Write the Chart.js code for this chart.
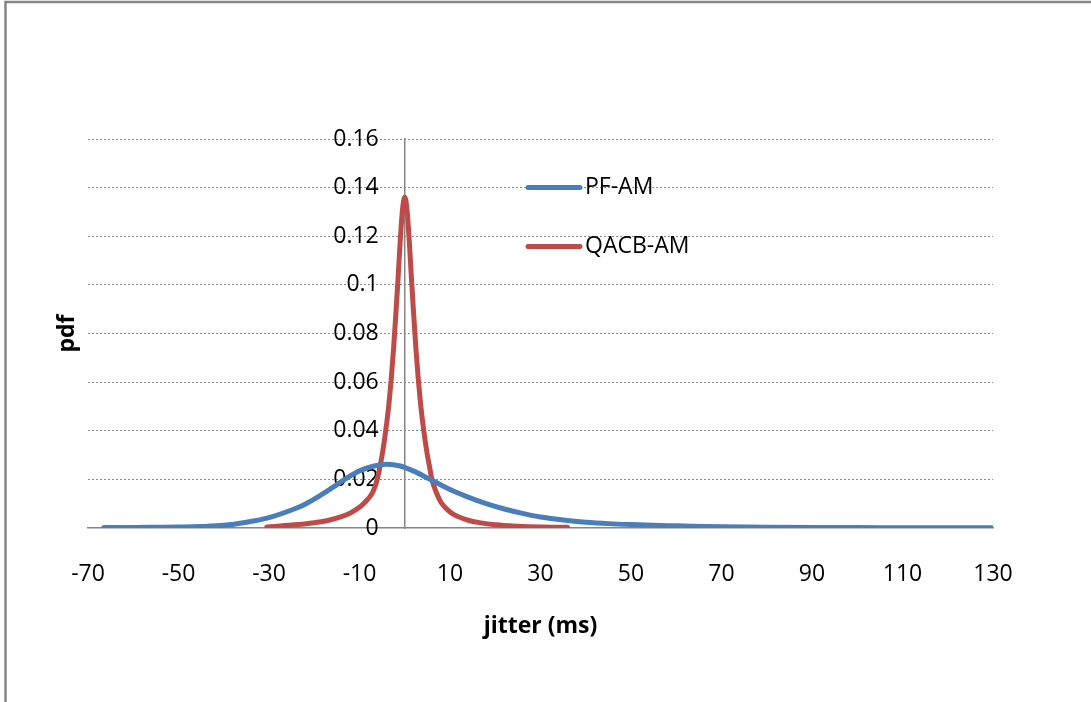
<!DOCTYPE html>
<html>
<head>
<meta charset="utf-8">
<script src="https://cdn.jsdelivr.net/npm/chart.js@4/dist/chart.umd.min.js"></script>
<style>
  html, body { margin: 0; padding: 0; background: #fff; overflow: hidden; }
  canvas { display: block; }
</style>
</head>
<body>
<canvas id="chart" width="1091" height="702"></canvas>
<script>
// Axis ticks
const xTicks = [-70, -50, -30, -10, 10, 30, 50, 70, 90, 110, 130];
const yTicks = [0, 0.02, 0.04, 0.06, 0.08, 0.1, 0.12, 0.14, 0.16];

// Series names and colours
const seriesNames = ['PF-AM', 'QACB-AM'];
const seriesColors = ['#4A7EBB', '#BE4B48'];

// PF-AM jitter pdf
const pfJitter = [-66.5, -60, -55, -50, -45, -40, -35, -30, -25, -22, -19, -16, -13, -10, -7, -4, -1, 2, 5, 8,
  11, 14, 18, 22, 26, 30, 35, 40, 45, 50, 55, 60, 70, 80, 90, 100, 110, 120, 130];
const pfPdf = [0.0002, 0.0002, 0.0003, 0.0004, 0.0006, 0.0011, 0.0024, 0.0043, 0.0074, 0.0098, 0.0130, 0.0166,
  0.0203, 0.0235, 0.0254, 0.0262, 0.0255, 0.0234, 0.0206, 0.0177, 0.0150, 0.0127, 0.0100, 0.0078, 0.0060,
  0.0045, 0.0033, 0.0024, 0.0018, 0.0014, 0.0011, 0.0009, 0.0005, 0.0003, 0.0002, 0.0002, 0.0001, 0.0001, 0.0001];

// QACB-AM jitter pdf
const qacbJitter = [-30.5, -25, -20, -17, -14, -12, -10, -9, -8, -7, -6, -5.5, -5, -4.5, -4, -3.5, -3, -2.5, -2,
  -1.5, -1, -0.5, 0, 0.5, 1, 1.5, 2, 2.5, 3, 3.5, 4, 4.5, 5, 5.5, 6, 7, 8, 9, 10, 11, 12, 14, 16.5, 20, 25, 30, 36];
const qacbPdf = [0.0004, 0.0012, 0.0022, 0.0031, 0.0047, 0.0062, 0.0085, 0.0102, 0.0122, 0.0150, 0.0205, 0.025,
  0.030, 0.036, 0.043, 0.051, 0.061, 0.073, 0.087, 0.102, 0.118, 0.131, 0.136, 0.131, 0.118, 0.102, 0.087,
  0.073, 0.061, 0.051, 0.043, 0.036, 0.030, 0.025, 0.020, 0.0145, 0.0106, 0.0083, 0.0066, 0.0054, 0.0045,
  0.0032, 0.0022, 0.0013, 0.0007, 0.0004, 0.0003];

const FONT = "'Open Sans', 'DejaVu Sans', sans-serif";
const FONT_SIZE = 23;
const AXIS_GREY = '#868686';
const LINE_WIDTH = 5;

const toPoints = (xs, ys) => xs.map((x, i) => ({ x: x, y: ys[i] }));

// Frame, y tick labels, y title and legend drawn on the canvas
const decorations = {
  id: 'decorations',
  beforeDraw(chart) {
    const ctx = chart.ctx;
    ctx.save();
    ctx.strokeStyle = AXIS_GREY;
    ctx.lineWidth = 2.5;
    ctx.beginPath();
    ctx.moveTo(5.5, chart.height + 10);
    ctx.lineTo(5.5, 2);
    ctx.lineTo(chart.width + 10, 2);
    ctx.stroke();
    ctx.restore();
  },
  beforeDatasetsDraw(chart) {
    const ctx = chart.ctx;
    const xs = chart.scales.x, ys = chart.scales.y;
    const axisX = xs.getPixelForValue(0);
    ctx.save();
    ctx.fillStyle = '#000';
    ctx.font = FONT_SIZE + 'px ' + FONT;
    ctx.textAlign = 'right';
    ctx.textBaseline = 'middle';
    yTicks.forEach(v => {
      ctx.fillText(String(v), axisX - 26, ys.getPixelForValue(v));
    });
    // y axis title
    const area = chart.chartArea;
    ctx.font = 'bold ' + FONT_SIZE + 'px ' + FONT;
    ctx.textAlign = 'center';
    ctx.translate(67, (area.top + area.bottom) / 2);
    ctx.rotate(-Math.PI / 2);
    ctx.fillText('pdf', 0, 0);
    ctx.restore();
  },
  afterDatasetsDraw(chart) {
    const ctx = chart.ctx;
    const rows = [187.5, 246.5];
    ctx.save();
    ctx.font = FONT_SIZE + 'px ' + FONT;
    ctx.textAlign = 'left';
    ctx.textBaseline = 'middle';
    chart.data.datasets.forEach((ds, i) => {
      const y = rows[i];
      ctx.strokeStyle = ds.borderColor;
      ctx.lineWidth = LINE_WIDTH;
      ctx.lineCap = 'round';
      ctx.beginPath();
      ctx.moveTo(528, y);
      ctx.lineTo(580, y);
      ctx.stroke();
      ctx.fillStyle = '#000';
      ctx.fillText(ds.label, 585, y);
    });
    ctx.restore();
  }
};

const lineStyle = {
  borderWidth: LINE_WIDTH,
  cubicInterpolationMode: 'monotone',
  borderCapStyle: 'round',
  borderJoinStyle: 'round',
  pointRadius: 0,
  pointHoverRadius: 0,
  fill: false
};

new Chart(document.getElementById('chart'), {
  type: 'line',
  data: {
    datasets: [
      Object.assign({
        label: seriesNames[0],
        data: toPoints(pfJitter, pfPdf),
        borderColor: seriesColors[0],
        backgroundColor: seriesColors[0]
      }, lineStyle),
      Object.assign({
        label: seriesNames[1],
        data: toPoints(qacbJitter, qacbPdf),
        borderColor: seriesColors[1],
        backgroundColor: seriesColors[1]
      }, lineStyle)
    ]
  },
  options: {
    responsive: false,
    animation: false,
    devicePixelRatio: 1,
    layout: { padding: { left: 88, right: 98, top: 139, bottom: 0 } },
    plugins: { legend: { display: false }, tooltip: { enabled: false } },
    scales: {
      x: {
        type: 'linear',
        min: -70,
        max: 130,
        afterBuildTicks: s => { s.ticks = xTicks.map(v => ({ value: v })); },
        afterFit: s => { s.height = 174; },
        grid: { display: true, drawOnChartArea: false, drawTicks: false },
        border: { display: true, color: AXIS_GREY, width: 1.5 },
        ticks: { color: '#000', font: { family: FONT, size: FONT_SIZE }, padding: 33, maxRotation: 0, autoSkip: false },
        title: {
          display: true, text: 'jitter (ms)', color: '#000',
          font: { family: FONT, size: FONT_SIZE, weight: 'bold' },
          padding: { top: 0, bottom: 62 }
        }
      },
      y: {
        type: 'linear',
        position: { x: 0 },
        min: 0,
        max: 0.16,
        afterBuildTicks: s => { s.ticks = yTicks.map(v => ({ value: v })); },
        grid: {
          display: true, drawTicks: false, lineWidth: 1,
          color: c => (c.tick && c.tick.value === 0) ? 'rgba(0,0,0,0)' : '#8c8c8c'
        },
        border: { display: true, color: AXIS_GREY, width: 1.5, dash: [2, 2] },
        ticks: { display: false }
      }
    }
  },
  plugins: [decorations]
});
</script>
</body>
</html>
